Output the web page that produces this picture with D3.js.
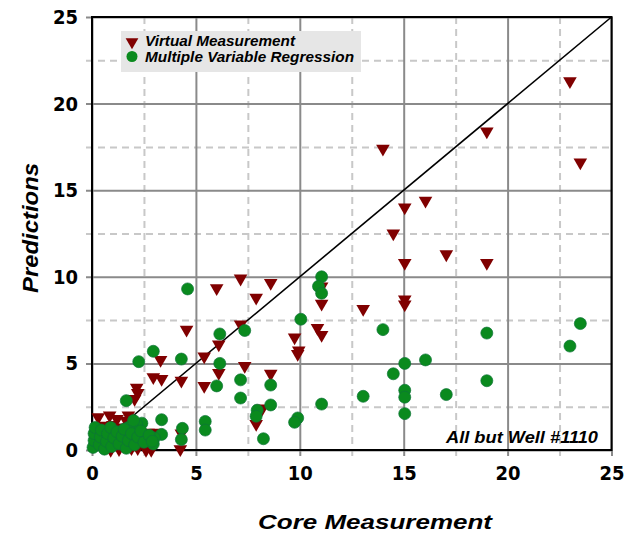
<!DOCTYPE html>
<html lang="en">
<head>
<meta charset="UTF-8">
<title>Predictions vs Core Measurement</title>
<script src="https://d3js.org/d3.v7.min.js"></script>
<style>
  body { margin: 0; background: #ffffff; }
  svg { display: block; }
  .tick-labels text {
    font-family: "Liberation Sans Narrow", "Arial Narrow", "DejaVu Sans Condensed", sans-serif;
    font-weight: bold;
    font-size: 20px;
    fill: #000;
  }
  .title {
    font-family: "Liberation Sans", Arial, sans-serif;
    font-weight: bold;
    font-style: italic;
    fill: #000;
  }
</style>
</head>
<body>
<div id="chart"></div>
<script>
// axis ticks
const majorTicks = [0, 5, 10, 15, 20, 25];
const minorTicks = [2.5, 7.5, 12.5, 17.5, 22.5];
const seriesNames = ["Virtual Measurement", "Multiple Variable Regression"];
const xTitle = "Core Measurement";
const yTitle = "Predictions";
const note = "All but Well #1110";

// Virtual Measurement predictions [core, predicted]
const vmPoints = [
  [23.0, 21.3], [19.0, 18.4], [14.0, 17.4], [23.5, 16.6], [16.05, 14.4], [15.05, 14.0],
  [14.5, 12.5], [17.05, 11.3], [15.05, 10.8], [19.0, 10.8], [15.05, 8.7], [15.05, 8.4],
  [13.05, 8.15],
  [7.15, 9.9], [6.0, 9.35], [8.6, 9.65], [7.9, 8.8], [11.05, 8.45], [11.05, 9.45],
  [4.55, 6.95], [7.15, 7.25], [10.85, 7.05], [11.05, 6.65], [9.75, 6.5], [9.95, 5.75],
  [9.9, 5.55], [6.1, 6.1], [5.4, 5.4], [7.35, 4.85], [6.1, 4.45], [4.3, 4.0], [5.4, 3.7],
  [8.6, 4.4], [8.2, 2.4], [7.9, 1.5], [4.3, 0.95], [4.25, 0.05],
  [3.3, 5.2], [2.95, 4.2], [3.35, 4.1], [2.15, 3.6], [2.2, 3.3], [2.05, 2.95],
  [0.3, 1.9], [0.85, 2.0], [1.2, 1.8], [1.75, 2.0], [1.65, 1.7],
  [0.2, 0.7], [0.6, 1.4], [1.0, 1.45], [1.3, 1.3],
  [0.9, 0.0], [1.3, 0.05], [1.9, 0.1], [2.2, 0.1], [2.6, 0.0], [2.85, 0.0],
  [2.25, 1.0], [2.7, 1.0], [3.1, 1.0]
];

// Multiple Variable Regression predictions [core, predicted]
const mvrPoints = [
  [23.5, 7.3], [23.0, 6.0], [19.0, 6.75], [14.0, 6.95], [16.05, 5.2], [15.05, 5.0],
  [14.5, 4.4], [19.0, 4.0], [15.05, 3.45], [15.05, 3.05], [13.05, 3.1], [17.05, 3.2],
  [15.05, 2.1],
  [11.05, 10.0], [10.9, 9.45], [11.05, 9.05], [4.6, 9.3], [10.05, 7.55], [6.15, 6.7],
  [7.35, 6.9], [6.15, 5.0], [4.3, 5.25], [7.15, 4.05], [8.6, 3.75], [6.0, 3.7],
  [7.15, 3.0], [8.6, 2.6], [11.05, 2.65], [7.95, 2.3], [7.9, 1.95], [9.9, 1.85],
  [9.75, 1.6], [5.45, 1.65], [5.45, 1.15], [8.25, 0.65], [4.35, 1.25], [4.3, 0.6],
  [2.95, 5.7], [2.25, 5.1], [1.65, 2.85], [3.35, 1.75], [2.4, 1.55], [3.35, 0.9],
  [3.0, 0.7], [2.55, 0.7], [2.95, 0.35], [2.15, 1.5], [1.75, 1.3], [2.0, 1.7],
  [0.05, 0.15], [0.1, 0.55], [0.1, 0.95], [0.15, 1.3], [0.35, 0.3], [0.4, 0.75],
  [0.45, 1.15], [0.6, 0.05], [0.7, 0.5], [0.75, 0.95], [0.9, 1.3], [0.95, 0.2],
  [1.05, 0.7], [1.2, 1.05], [1.3, 0.35], [1.45, 0.8], [1.55, 1.2], [1.65, 0.1],
  [1.75, 0.55], [1.9, 0.95], [2.05, 0.3], [2.2, 0.75], [2.35, 1.1], [2.5, 0.45],
  [2.75, 0.85], [2.9, 0.5]
];

const width = 633, height = 533;
const tickOut = 6;

const svg = d3.select("#chart").append("svg")
  .attr("width", width)
  .attr("height", height)
  .style("background", "#fff");

const x = d3.scaleLinear().domain([0, 25]).range([92, 611.5]);
const y = d3.scaleLinear().domain([0, 25]).range([450, 17]);
const plotW = x(25) - x(0), plotH = y(0) - y(25);

function gridAxes(ticks, cls, labels) {
  const gy = svg.append("g")
    .attr("class", cls + (labels ? " tick-labels" : ""))
    .attr("transform", `translate(${x(0) - tickOut},0)`)
    .call(d3.axisLeft(y).tickValues(ticks).tickSize(-(plotW + tickOut)).tickPadding(8)
      .tickFormat(labels ? d3.format("d") : ""));
  const gx = svg.append("g")
    .attr("class", cls + (labels ? " tick-labels" : ""))
    .attr("transform", `translate(0,${y(0) + tickOut})`)
    .call(d3.axisBottom(x).tickValues(ticks).tickSize(-(plotH + tickOut)).tickPadding(10)
      .tickFormat(labels ? d3.format("d") : ""));
  [gx, gy].forEach(g => g.select(".domain").remove());
  return [gx, gy];
}

// dashed minor grid, then solid major grid
gridAxes(minorTicks, "minor", false).forEach(g =>
  g.selectAll("line").attr("stroke", "#c8c8c8").attr("stroke-width", 2).attr("stroke-dasharray", "7,5"));
gridAxes(majorTicks, "major", true).forEach(g =>
  g.selectAll("line").attr("stroke", "#8a8a8a").attr("stroke-width", 2));

// frame
svg.append("rect")
  .attr("x", x(0)).attr("y", y(25))
  .attr("width", plotW).attr("height", plotH)
  .attr("fill", "none").attr("stroke", "#000").attr("stroke-width", 2);

// 1:1 line
svg.append("line")
  .attr("x1", x(0)).attr("y1", y(0))
  .attr("x2", x(25)).attr("y2", y(25))
  .attr("stroke", "#000").attr("stroke-width", 1.6);

const tri = d3.symbol().type(d3.symbolTriangle).size(80);

svg.append("g").selectAll("path")
  .data(vmPoints)
  .join("path")
  .attr("d", tri)
  .attr("transform", d => `translate(${x(d[0])},${y(d[1])}) rotate(180)`)
  .attr("fill", "#800000");

svg.append("g").selectAll("circle")
  .data(mvrPoints)
  .join("circle")
  .attr("cx", d => x(d[0]))
  .attr("cy", d => y(d[1]))
  .attr("r", 6)
  .attr("fill", "#0a8a1e")
  .attr("stroke", "#0d7438")
  .attr("stroke-width", 0.7);

// legend
const legend = svg.append("g");
legend.append("rect")
  .attr("x", 121).attr("y", 31).attr("width", 240).attr("height", 41)
  .attr("fill", "#e6e6e6");
legend.append("path")
  .attr("d", d3.symbol().type(d3.symbolTriangle).size(70))
  .attr("transform", "translate(132,42) rotate(180)")
  .attr("fill", "#800000");
legend.append("circle")
  .attr("cx", 132).attr("cy", 56.5).attr("r", 5.5)
  .attr("fill", "#0a8a1e");
legend.selectAll("text")
  .data(seriesNames)
  .join("text")
  .attr("class", "title")
  .attr("x", 145)
  .attr("y", (d, i) => 46 + i * 15.5)
  .attr("font-size", 14)
  .attr("textLength", (d, i) => i === 0 ? 150 : 209)
  .attr("lengthAdjust", "spacingAndGlyphs")
  .text(d => d);

// note
svg.append("text")
  .attr("class", "title")
  .attr("x", 446).attr("y", 443)
  .attr("font-size", 16)
  .attr("textLength", 152)
  .attr("lengthAdjust", "spacingAndGlyphs")
  .text(note);

// axis titles
svg.append("text")
  .attr("class", "title")
  .attr("x", 375).attr("y", 529)
  .attr("text-anchor", "middle")
  .attr("font-size", 21)
  .attr("textLength", 234)
  .attr("lengthAdjust", "spacingAndGlyphs")
  .text(xTitle);

svg.append("text")
  .attr("class", "title")
  .attr("transform", "translate(38,228) rotate(-90)")
  .attr("text-anchor", "middle")
  .attr("font-size", 22)
  .attr("textLength", 130)
  .attr("lengthAdjust", "spacingAndGlyphs")
  .text(yTitle);
</script>
</body>
</html>
